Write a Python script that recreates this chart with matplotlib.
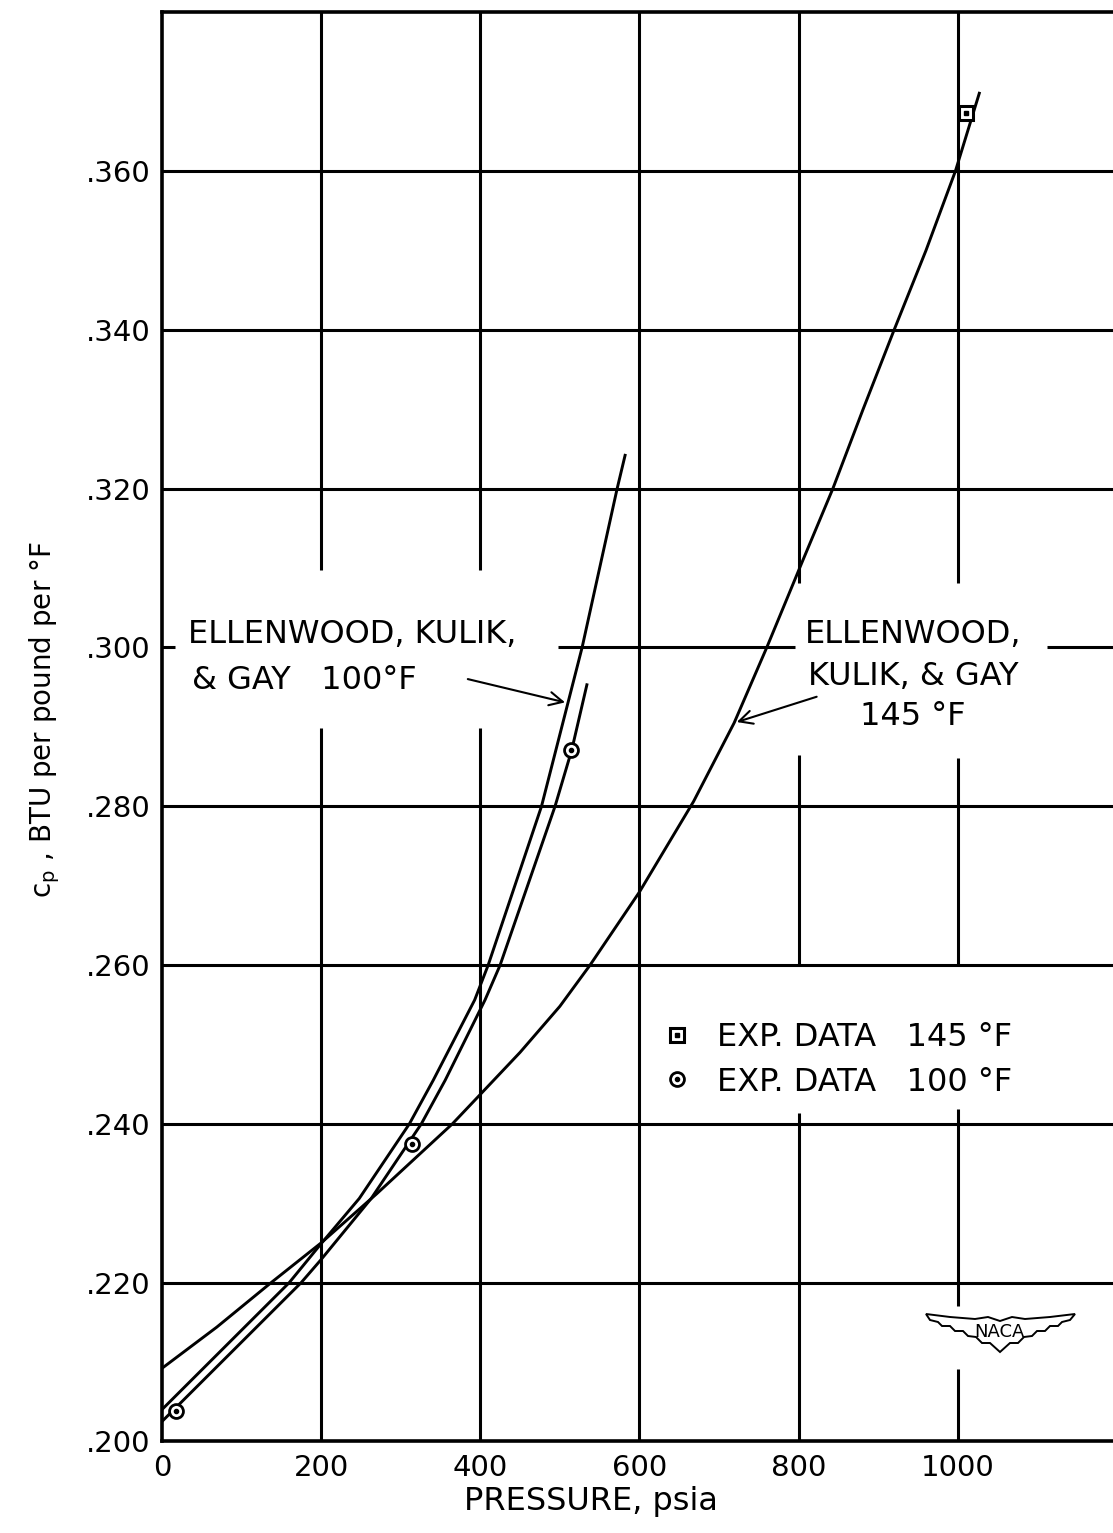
import matplotlib
matplotlib.use("Agg")
import matplotlib.pyplot as plt
from matplotlib.patches import Polygon
from matplotlib.legend_handler import HandlerTuple

plt.rcParams['font.family'] = ['DejaVu Sans']

# ---------------- data ----------------
ekg145_p = [0, 69, 136, 200, 270, 365, 400, 450, 500, 538, 600, 668,
            719, 760, 805, 843, 881, 920, 960, 997, 1027]
ekg145_cp = [.2092, .2144, .2199, .2250, .2312, .2400, .2437, .2490, .2548, .2600,
             .2692, .2806, .2905, .3000, .3109, .3200, .3300, .3400, .3500, .3600, .3698]

ekg100_p = [0, 69, 160, 200, 248, 311, 341, 393, 410, 477, 528, 572, 582]
ekg100_cp = [.2040, .2109, .2200, .2249, .2306, .2400, .2455, .2556, .2600,
             .2800, .3000, .3200, .3242]

fit100_p = [0, 175, 200, 263, 326, 356, 406, 425, 494, 515, 534]
fit100_cp = [.2025, .2200, .2229, .2306, .2400, .2455, .2556, .2600, .2800,
             .2871, .2953]

exp100_p = [18, 314, 514]
exp100_cp = [.2038, .2375, .2871]
exp145_p = [1010]
exp145_cp = [.3673]

xticks = [0, 200, 400, 600, 800, 1000]
xticklabels = ["0", "200", "400", "600", "800", "1000"]
yticks = [.200, .220, .240, .260, .280, .300, .320, .340, .360]
yticklabels = [".200", ".220", ".240", ".260", ".280", ".300", ".320", ".340", ".360"]

legend_labels = ["EXP. DATA   145 °F", "EXP. DATA   100 °F"]

# ---------------- figure ----------------
W, H = 1113, 1533
fig = plt.figure(figsize=(W / 100, H / 100), dpi=100)
ax = fig.add_axes([0.1454, 0.0597, 0.8582, 0.9323])
ax.set_xlim(0, 1200)
ax.set_ylim(0.200, 0.380)

GRID_LW = 2.2
# vertical grid lines with breaks (breaks leave room for the lettering)
vgrid = {
    200: [(0.200, 0.2898), (0.3098, 0.380)],
    400: [(0.200, 0.2899), (0.3098, 0.380)],
    600: [(0.200, 0.380)],
    800: [(0.200, 0.2414), (0.2600, 0.2865), (0.3081, 0.380)],
    1000: [(0.200, 0.2091), (0.2170, 0.2419), (0.2600, 0.2861), (0.3081, 0.380)],
}
for xv, segs in vgrid.items():
    for y0, y1 in segs:
        ax.vlines(xv, y0, y1, colors='black', lw=GRID_LW, zorder=1)

hgrid = {
    0.220: [(0, 1200)], 0.240: [(0, 1200)], 0.260: [(0, 1200)], 0.280: [(0, 1200)],
    0.300: [(0, 17), (498, 796), (1112, 1200)],
    0.320: [(0, 1200)], 0.340: [(0, 1200)], 0.360: [(0, 1200)],
}
for yv, segs in hgrid.items():
    for x0, x1 in segs:
        ax.hlines(yv, x0, x1, colors='black', lw=GRID_LW, zorder=1)

for s in ['left', 'bottom', 'top']:
    ax.spines[s].set_linewidth(2.6)
ax.spines['right'].set_visible(False)

# ---------------- curves ----------------
CLW = 2.1
ax.plot(ekg145_p, ekg145_cp, color='black', lw=CLW, zorder=3, solid_joinstyle='round')
ax.plot(ekg100_p, ekg100_cp, color='black', lw=CLW, zorder=3, solid_joinstyle='round')
ax.plot(fit100_p, fit100_cp, color='black', lw=CLW, zorder=3, solid_joinstyle='round')

c1, = ax.plot(exp100_p, exp100_cp, linestyle='none', marker='o', ms=10,
              mfc='white', mec='black', mew=2.0, zorder=5)
c2, = ax.plot(exp100_p, exp100_cp, linestyle='none', marker='o', ms=3,
              mfc='black', mec='black', zorder=6)
s1, = ax.plot(exp145_p, exp145_cp, linestyle='none', marker='s', ms=10,
              mfc='white', mec='black', mew=2.2, zorder=5)
s2, = ax.plot(exp145_p, exp145_cp, linestyle='none', marker='s', ms=3,
              mfc='black', mec='black', zorder=6)

# ---------------- axes text ----------------
ax.set_xticks(xticks)
ax.set_xticklabels(xticklabels, fontsize=21)
ax.set_yticks(yticks)
ax.set_yticklabels(yticklabels, fontsize=21)
ax.tick_params(axis='both', length=0)
ax.tick_params(axis='x', pad=9)
ax.tick_params(axis='y', pad=8)

ax.set_xlabel("PRESSURE, psia", fontsize=23)
ax.xaxis.set_label_coords(0.449, -0.031)
ax.set_ylabel(r"c$_\mathregular{p}$ , BTU per pound per °F", fontsize=20)
ax.yaxis.set_label_coords(-0.104, 0.505)

# ---------------- annotations ----------------
TFS = 23
ax.text(33, 0.3016, "ELLENWOOD, KULIK,", ha='left', va='center', fontsize=TFS)
ax.text(38, 0.2959, "& GAY   100°F", ha='left', va='center', fontsize=TFS)
ax.annotate("", xy=(510, 0.2930), xytext=(381, 0.2961),
            arrowprops=dict(arrowstyle='->', lw=1.5, color='black', mutation_scale=24))

ax.text(944, 0.3016, "ELLENWOOD,", ha='center', va='center', fontsize=TFS)
ax.text(944, 0.2963, "KULIK, & GAY", ha='center', va='center', fontsize=TFS)
ax.text(944, 0.2913, "145 °F", ha='center', va='center', fontsize=TFS)
ax.annotate("", xy=(719, 0.2905), xytext=(826, 0.2939),
            arrowprops=dict(arrowstyle='->', lw=1.5, color='black', mutation_scale=24))

# ---------------- legend ----------------
leg = ax.legend([(s1, s2), (c1, c2)], legend_labels,
                handler_map={tuple: HandlerTuple(ndivide=1)},
                loc='center left', bbox_to_anchor=(0.5226, 0.2670),
                frameon=False, fontsize=23, handlelength=1.0,
                handletextpad=0.75, labelspacing=0.42, borderpad=0, borderaxespad=0)

# ---------------- NACA wing logo (decoration, figure pixel coords) ----------------
def fp(px, py):
    return (px / W, 1 - py / H)

top = [(926, 1314), (950, 1317), (975, 1319), (988, 1317), (1000, 1321),
       (1012, 1317), (1025, 1319), (1050, 1317), (1075, 1314)]
bot = [(1070, 1320), (1062, 1322), (1058, 1326), (1050, 1326), (1045, 1331),
       (1037, 1331), (1032, 1336), (1024, 1337), (1018, 1343), (1010, 1343),
       (1000, 1352), (990, 1343), (982, 1343), (976, 1337), (968, 1336),
       (963, 1331), (955, 1331), (950, 1326), (942, 1326), (938, 1322), (930, 1320)]
wing = Polygon([fp(*p) for p in top + bot], closed=True, fill=False,
               edgecolor='black', lw=1.4, transform=fig.transFigure)
fig.add_artist(wing)
fig.text(999 / W, 1 - 1332 / H, "NACA", ha='center', va='center', fontsize=13)

fig.savefig("out.png", dpi=100)
